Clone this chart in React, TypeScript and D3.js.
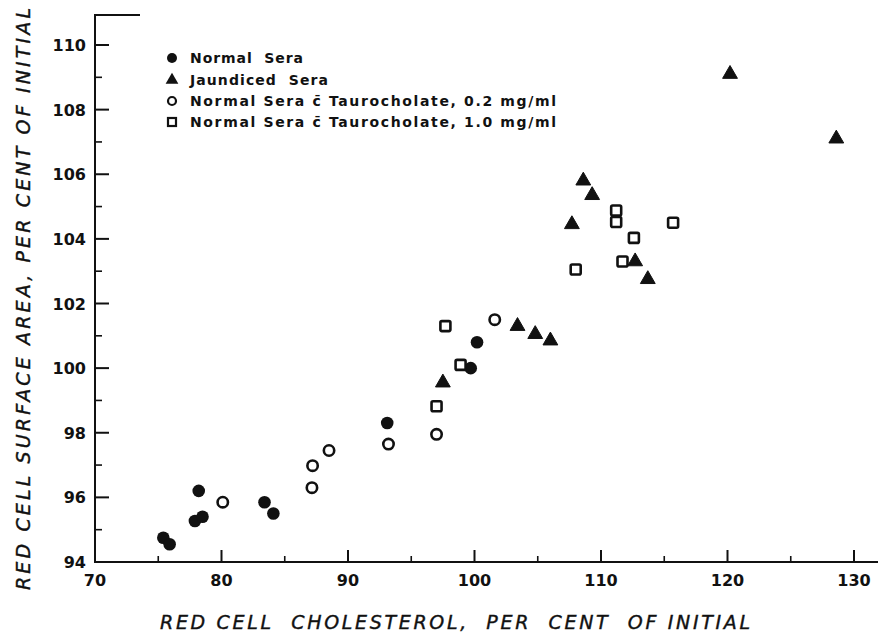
import React from 'react';
import * as d3 from 'd3';

// values: [cholesterol %, surface area %]
const normalSera: [number, number][] = [
  [75.4, 94.75], [75.9, 94.55], [77.9, 95.27], [78.2, 96.2], [78.5, 95.4],
  [83.4, 95.85], [84.1, 95.5], [93.1, 98.3], [99.7, 100.0], [100.2, 100.8],
];
const jaundicedSera: [number, number][] = [
  [97.5, 99.55], [103.4, 101.3], [104.8, 101.05], [106.0, 100.85], [107.7, 104.45],
  [108.6, 105.8], [109.3, 105.35], [112.7, 103.3], [113.7, 102.75], [120.2, 109.1],
  [128.6, 107.1],
];
const tauro02: [number, number][] = [
  [80.1, 95.85], [87.15, 96.3], [87.2, 96.98], [88.5, 97.45], [93.2, 97.65],
  [97.0, 97.95], [101.6, 101.5],
];
const tauro10: [number, number][] = [
  [97.0, 98.82], [97.7, 101.3], [98.9, 100.1], [108.0, 103.05], [111.2, 104.88],
  [111.2, 104.52], [111.7, 103.3], [112.6, 104.03], [115.7, 104.5],
];

const xMajor = [70, 80, 90, 100, 110, 120, 130];
const xMinor = [75, 85, 95, 105, 115, 125];
const yMajor = [94, 96, 98, 100, 102, 104, 106, 108, 110];
const yMinor = [95, 97, 99, 101, 103, 105, 107, 109];

const legendLabels = [
  'Normal  Sera',
  'Jaundiced  Sera',
  'Normal Sera c\u0304 Taurocholate, 0.2 mg/ml',
  'Normal Sera c\u0304 Taurocholate, 1.0 mg/ml',
];

const W = 880;
const H = 632;

export default function App() {
  const x = d3.scaleLinear().domain([70, 130]).range([95, 854]);
  const y = d3.scaleLinear().domain([94, 110]).range([562, 45]);

  const tri = d3.symbol(d3.symbolTriangle, 95)();
  const triSmall = d3.symbol(d3.symbolTriangle, 70)();
  const font = "'DejaVu Sans', Verdana, sans-serif";
  const ink = '#111';

  const legendY = [58, 80, 101, 122];
  // rough extents of each legend line in the figure
  const legendLen = [113, 138, 366, 366];

  return (
    <svg width={W} height={H} style={{ position: 'absolute', left: 0, top: 0, background: '#fff' }}>
      <rect width={W} height={H} fill="#fff" />

      {/* axes */}
      <line x1={95} x2={95} y1={15} y2={563} stroke={ink} strokeWidth={2} />
      <line x1={94} x2={140} y1={15} y2={15} stroke={ink} strokeWidth={2} />
      <line x1={94} x2={878} y1={562} y2={562} stroke={ink} strokeWidth={2} />

      {yMajor.map(v => (
        <g key={'ym' + v}>
          <line x1={95} x2={109} y1={y(v)} y2={y(v)} stroke={ink} strokeWidth={2} />
          <text x={86} y={y(v) + 6} textAnchor="end" fontFamily={font} fontWeight="bold"
            fontSize={16} fill={ink}>{v}</text>
        </g>
      ))}
      {yMinor.map(v => (
        <line key={'yn' + v} x1={95} x2={102} y1={y(v)} y2={y(v)} stroke={ink} strokeWidth={1.6} />
      ))}

      {xMajor.map(v => (
        <g key={'xm' + v}>
          <line x1={x(v)} x2={x(v)} y1={562} y2={550} stroke={ink} strokeWidth={2} />
          <text x={x(v)} y={586} textAnchor="middle" fontFamily={font} fontWeight="bold"
            fontSize={16} fill={ink}>{v}</text>
        </g>
      ))}
      {xMinor.map(v => (
        <line key={'xn' + v} x1={x(v)} x2={x(v)} y1={562} y2={556} stroke={ink} strokeWidth={1.6} />
      ))}

      {/* axis titles */}
      <text x={160} y={629} fontFamily={font} fontStyle="italic" fontSize={19}
        textLength={590} lengthAdjust="spacing" fill={ink} stroke={ink} strokeWidth={0.4}
        style={{ whiteSpace: 'pre' }}>
        {'RED CELL  CHOLESTEROL,  PER  CENT  OF INITIAL'}
      </text>
      <text transform="translate(30,590) rotate(-90)" fontFamily={font} fontStyle="italic"
        fontSize={19} textLength={582} lengthAdjust="spacing" fill={ink} stroke={ink} strokeWidth={0.4}>
        RED CELL SURFACE AREA, PER CENT OF INITIAL
      </text>

      {/* points */}
      {normalSera.map((d, i) => (
        <circle key={'n' + i} cx={x(d[0])} cy={y(d[1])} r={6.3} fill={ink} />
      ))}
      {jaundicedSera.map((d, i) => (
        <path key={'j' + i} d={tri} transform={`translate(${x(d[0])},${y(d[1])})`} fill={ink}
          stroke={ink} strokeWidth={1} strokeLinejoin="round" />
      ))}
      {tauro02.map((d, i) => (
        <circle key={'o' + i} cx={x(d[0])} cy={y(d[1])} r={5.2} fill="#fff" stroke={ink} strokeWidth={2.6} />
      ))}
      {tauro10.map((d, i) => (
        <rect key={'s' + i} x={x(d[0]) - 5} y={y(d[1]) - 5} width={10} height={10} rx={1.5}
          fill="#fff" stroke={ink} strokeWidth={2.6} />
      ))}

      {/* legend */}
      <circle cx={172} cy={legendY[0]} r={5} fill={ink} />
      <path d={triSmall} transform={`translate(172,${legendY[1]})`} fill={ink} />
      <circle cx={172} cy={legendY[2]} r={4} fill="#fff" stroke={ink} strokeWidth={2.2} />
      <rect x={168} y={legendY[3] - 4} width={8} height={8} fill="#fff" stroke={ink} strokeWidth={2.2} />
      {legendLabels.map((t, i) => (
        <text key={'l' + i} x={190} y={legendY[i] + 5} fontFamily={font} fontWeight="bold"
          fontSize={14} textLength={legendLen[i]} lengthAdjust="spacing" fill={ink}
          style={{ whiteSpace: 'pre' }}>{t}</text>
      ))}
    </svg>
  );
}
